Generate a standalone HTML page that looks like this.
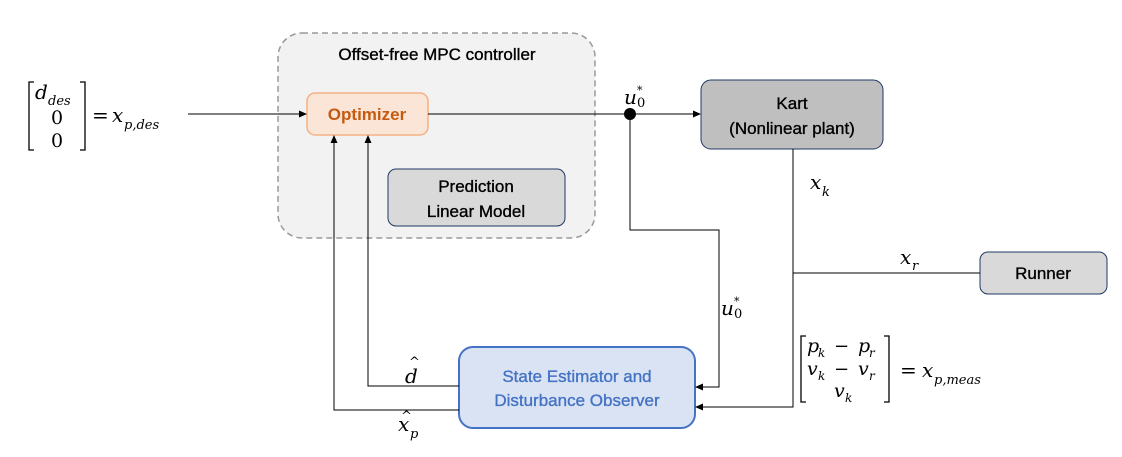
<!DOCTYPE html>
<html><head><meta charset="utf-8"><style>
body{margin:0;background:#fff;width:1122px;height:457px;overflow:hidden}
svg{display:block}
.s{font-family:"Liberation Sans",sans-serif;stroke-width:0.35px;}
.m{font-family:"DejaVu Serif","Liberation Serif",serif;font-style:italic}
.n{font-family:"DejaVu Serif","Liberation Serif",serif}
</style></head><body>
<svg width="1122" height="457" viewBox="0 0 1122 457">
<defs><marker id="a" markerWidth="8" markerHeight="8" refX="7" refY="4" orient="auto" markerUnits="userSpaceOnUse"><path d="M0,0.5 L8,4 L0,7.5z" fill="#000"/></marker></defs>
<rect x="278" y="33" width="317" height="205" rx="24" fill="#f2f2f2" stroke="#999" stroke-width="1.5" stroke-dasharray="6,4"/>
<text x="437" y="60" class="s" font-size="17" text-anchor="middle" stroke="#000">Offset-free MPC controller</text>
<rect x="307" y="93" width="121" height="42" rx="8" fill="#fbe5d6" stroke="#f4b183" stroke-width="1.5"/>
<text x="367" y="120" class="s" font-size="17" font-weight="bold" fill="#c55a11" text-anchor="middle">Optimizer</text>
<rect x="388" y="169" width="177" height="57" rx="8" fill="#d9d9d9" stroke="#1f3864" stroke-width="1"/>
<text x="476" y="192" class="s" font-size="17" text-anchor="middle" stroke="#000">Prediction</text>
<text x="476" y="217" class="s" font-size="17" text-anchor="middle" stroke="#000">Linear Model</text>
<rect x="701" y="80" width="182" height="69" rx="10" fill="#bfbfbf" stroke="#1f3864" stroke-width="1"/>
<text x="792" y="109" class="s" font-size="17" text-anchor="middle" stroke="#000">Kart</text>
<text x="792" y="134" class="s" font-size="17" text-anchor="middle" stroke="#000">(Nonlinear plant)</text>
<rect x="980" y="252" width="127" height="42" rx="8" fill="#d9d9d9" stroke="#1f3864" stroke-width="1"/>
<text x="1043" y="279" class="s" font-size="17" text-anchor="middle" stroke="#000">Runner</text>
<rect x="459" y="347" width="236" height="81" rx="14" fill="#dae3f3" stroke="#4472c4" stroke-width="2"/>
<text x="577" y="382" class="s" font-size="17" fill="#4472c4" stroke="#4472c4" text-anchor="middle">State Estimator and</text>
<text x="577" y="406" class="s" font-size="17" fill="#4472c4" stroke="#4472c4" text-anchor="middle">Disturbance Observer</text>
<g stroke="#000" stroke-width="1" fill="none">
<line x1="188" y1="114" x2="306" y2="114" marker-end="url(#a)"/>
<line x1="428" y1="114" x2="700" y2="114" marker-end="url(#a)"/>
<polyline points="630,114 630,230 719,230 719,387 696,387" marker-end="url(#a)"/>
<polyline points="793,149 793,407 696,407" marker-end="url(#a)"/>
<line x1="793" y1="273" x2="980" y2="273"/>
<polyline points="459,386 368,386 368,136" marker-end="url(#a)"/>
<polyline points="459,410 334,410 334,136" marker-end="url(#a)"/>
</g>
<circle cx="630" cy="114" r="6" fill="#000"/>
<text x="624" y="104" class="m" font-size="20">u</text><text x="637" y="107" class="n" font-size="13">0</text><text x="637" y="94" class="n" font-size="11">*</text>
<text x="721" y="315" class="m" font-size="20">u</text><text x="734" y="318" class="n" font-size="13">0</text><text x="734" y="305" class="n" font-size="11">*</text>
<text x="810" y="189" class="m" font-size="20">x</text><text x="822" y="196" class="m" font-size="13">k</text>
<text x="900" y="264" class="m" font-size="20">x</text><text x="912" y="270" class="m" font-size="13">r</text>
<text x="405" y="383" class="m" font-size="20">d</text><text x="409" y="366" class="n" font-size="13">^</text>
<text x="398" y="431" class="m" font-size="20">x</text><text x="401" y="420" class="n" font-size="13">^</text><text x="410" y="438" class="m" font-size="13">p</text>
<path d="M34,82 H29 V150 H34 M80,82 H85 V150 H80" stroke="#000" stroke-width="1.3" fill="none"/>
<text x="35" y="99" class="m" font-size="20">d</text><text x="48" y="105" class="m" font-size="13">des</text>
<text x="57" y="124" class="n" font-size="19" text-anchor="middle">0</text>
<text x="57" y="147" class="n" font-size="19" text-anchor="middle">0</text>
<text x="92" y="122" class="n" font-size="20">=</text>
<text x="112" y="122" class="m" font-size="20">x</text><text x="124" y="129" class="m" font-size="13">p,des</text>
<path d="M806,336 H801 V402 H806 M884,336 H889 V402 H884" stroke="#000" stroke-width="1.3" fill="none"/>
<text x="807" y="352" class="m" font-size="19">p</text><text x="818" y="357" class="m" font-size="12">k</text>
<text x="834" y="352" class="n" font-size="18">−</text>
<text x="858" y="352" class="m" font-size="19">p</text><text x="869" y="357" class="m" font-size="12">r</text>
<text x="807" y="375" class="m" font-size="19">v</text><text x="818" y="380" class="m" font-size="12">k</text>
<text x="834" y="375" class="n" font-size="18">−</text>
<text x="858" y="375" class="m" font-size="19">v</text><text x="869" y="380" class="m" font-size="12">r</text>
<text x="834" y="397" class="m" font-size="19">v</text><text x="845" y="402" class="m" font-size="12">k</text>
<text x="900" y="377" class="n" font-size="20">=</text>
<text x="922" y="377" class="m" font-size="20">x</text><text x="934" y="384" class="m" font-size="13">p,meas</text>
</svg>
</body></html>
